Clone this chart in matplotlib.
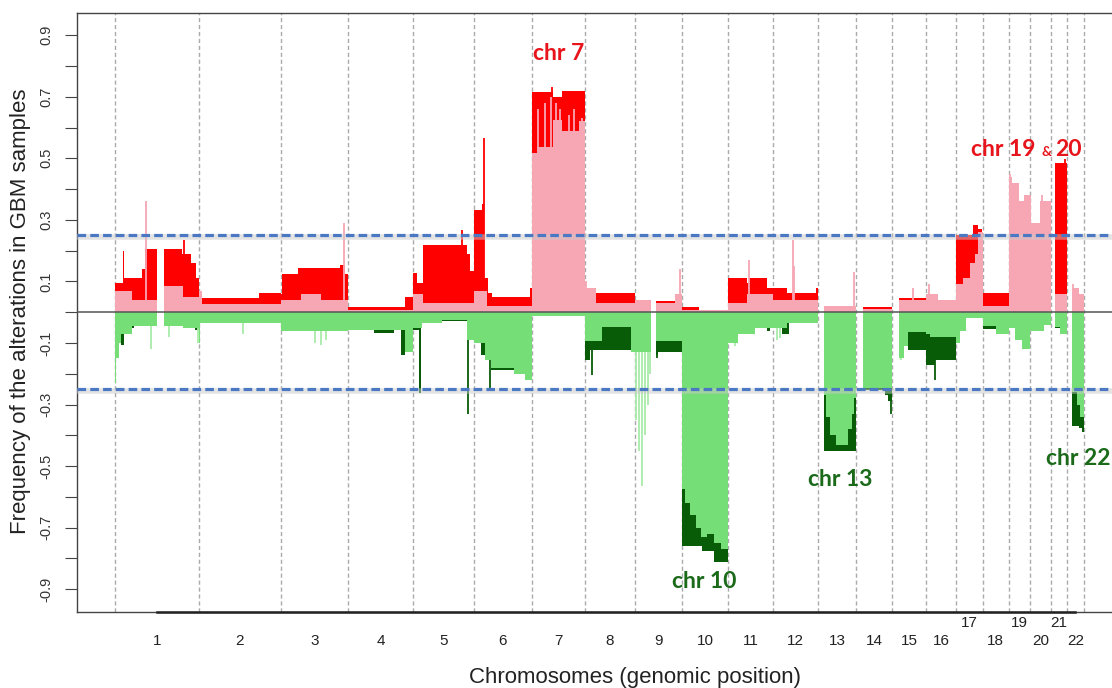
import numpy as np
import matplotlib.pyplot as plt

# chromosome lengths (Mb, hg18)
CHROM_LEN = [247.2, 243.0, 199.5, 191.3, 180.9, 170.9, 158.8, 146.3, 140.3, 135.4, 134.5,
             132.3, 114.1, 106.4, 100.3, 88.8, 78.8, 76.1, 63.8, 62.4, 46.9, 49.7]

# step profiles per chromosome: (start Mb, frequency); None marks a region without probes
gain_all = {
    1: [(0, .094), (23, .20), (25, .11), (79, .14), (89, .205), (123, None), (143, .205), (198, .19), (223, .16), (238, .11)],
    2: [(0, .06), (6, .045), (177, .062)],
    3: [(0, .06), (3, .125), (50, .142), (176, .154), (190, .125)],
    4: [(0, .018), (168, .05)],
    5: [(0, .126), (12, .094), (30, .218), (160, .19), (170, .135)],
    6: [(0, .332), (23, .35), (30, .11), (41, .062), (55, .048), (166, .08)],
    7: [(0, .716), (64, .70), (89, .718)],
    8: [(0, .04), (32, .062)],
    9: [(0, .03), (48, None), (63, .035)],
    10: [(0, .018), (50, .008)],
    11: [(0, .11), (58, .095), (62, .11), (116, .078)],
    12: [(0, .078), (42, .062), (126, .078)],
    13: [(0, None), (19, .005)],
    14: [(0, None), (19, .018)],
    15: [(0, None), (20, .046)],
    16: [(0, .01)],
    17: [(0, .25), (50, .283), (66, .27), (75, .20)],
    18: [(0, .062)],
    19: [(0, .05)],
    20: [(0, .05)],
    21: [(0, None), (10, .484)],
    22: [(0, None), (15, .02)],
}
gain_low = {
    1: [(0, .07), (50, .04), (123, None), (143, .085), (200, .05)],
    2: [(0, .07), (10, .025)],
    3: [(0, .04), (60, .06), (120, .04)],
    4: [(0, .008)],
    5: [(0, .06), (30, .03)],
    6: [(0, .07), (38, .02)],
    7: [(0, .516), (15, .538), (64, .625), (89, .59), (140, .62)],
    8: [(0, .08), (32, .03)],
    9: [(0, .04), (48, None), (63, .03), (120, .06)],
    10: [(0, .008)],
    11: [(0, .03), (58, .06)],
    12: [(0, .04)],
    13: [(0, None), (19, .02)],
    14: [(0, None), (19, .01)],
    15: [(0, None), (20, .04)],
    16: [(0, .06), (35, .04)],
    17: [(0, .09), (20, .11), (40, .16), (55, .19), (65, .26)],
    18: [(0, .02)],
    19: [(0, .44), (10, .42), (30, .36), (45, .38)],
    20: [(0, .38), (4, .29), (30, .36)],
    21: [(0, None), (10, .06)],
    22: [(0, None), (15, .078), (35, .06)],
}
loss_all = {
    1: [(0, -.04), (17, -.105), (25, -.05), (55, -.045), (85, -.035), (123, None), (143, -.03), (235, -.057)],
    2: [(0, -.025), (120, -.03)],
    3: [(0, -.05)],
    4: [(0, -.04), (75, -.068), (135, -.05), (157, -.139), (168, -.05)],
    5: [(0, -.057), (17, -.263), (25, -.03)],
    6: [(0, -.07), (20, -.14), (50, -.187), (118, -.10)],
    7: [(0, -.005)],
    8: [(0, -.155), (14, -.124)],
    9: [(0, -.05), (48, None), (63, -.139), (70, -.128)],
    10: [(0, -.761), (60, -.777), (95, -.81)],
    11: [(0, -.03), (115, -.06), (125, -.03)],
    12: [(0, -.03), (27, -.07), (47, -.03)],
    13: [(0, None), (19, -.452)],
    14: [(0, None), (19, -.252), (85, -.27), (95, -.29)],
    15: [(0, None), (20, -.10), (45, -.122)],
    16: [(0, -.17), (27, -.155)],
    17: [(0, -.005)],
    18: [(0, -.055), (40, -.01)],
    19: [(0, -.01)],
    20: [(0, -.01)],
    21: [(0, None), (10, -.05)],
    22: [(0, None), (15, -.37), (35, -.375), (43, -.39)],
}
loss_low = {
    1: [(0, -.23), (3, -.15), (10, -.10), (17, -.07), (50, -.045), (123, None), (143, -.045), (200, -.05)],
    2: [(0, -.10), (3, -.035)],
    3: [(0, -.06)],
    4: [(0, -.057), (168, -.13)],
    5: [(0, -.05), (28, -.035), (85, -.025), (160, -.09)],
    6: [(0, -.10), (33, -.155), (50, -.18), (118, -.20), (150, -.22)],
    7: [(0, -.012)],
    8: [(0, -.095), (49, -.047), (134, -.128)],
    9: [(0, -.128), (48, None), (63, -.095)],
    10: [(0, -.575), (10, -.62), (25, -.66), (40, -.70), (55, -.73), (75, -.72), (95, -.75), (115, -.77)],
    11: [(0, -.10), (30, -.07), (80, -.05)],
    12: [(0, -.05), (40, -.036)],
    13: [(0, None), (19, -.27), (25, -.34), (35, -.40), (55, -.43), (90, -.38), (100, -.33), (108, -.28)],
    14: [(0, None), (19, -.245)],
    15: [(0, None), (20, -.15), (35, -.11), (45, -.065)],
    16: [(0, -.07), (10, -.08)],
    17: [(0, -.10), (10, -.06), (30, -.02)],
    18: [(0, -.045), (40, -.07)],
    19: [(0, -.05), (20, -.09), (40, -.12)],
    20: [(0, -.06), (40, -.04)],
    21: [(0, None), (10, -.047), (25, -.07)],
    22: [(0, None), (15, -.26), (30, -.30), (40, -.34)],
}

# single-probe peaks: (chromosome, Mb, frequency)
red_peaks = [(1, 203, .235), (5, 145, .267), (6, 31, .565), (7, 60, .733), (21, 40, .497)]
pink_peaks = [(1, 90, .36), (3, 186, .29), (8, 3, .10), (9, 133, .14), (11, 62, .17), (12, 58, .235),
              (12, 62, .15), (13, 108, .13), (15, 60, .08), (16, 8, .09), (22, 18, .09),
              (7, 20, .66), (7, 40, .68), (7, 58, .70), (7, 72, .68), (7, 85, .66), (7, 110, .64),
              (7, 125, .66), (7, 148, .63), (19, 3, .45), (20, 35, .38)]
green_peaks = [(1, 105, -.12), (1, 160, -.08), (1, 246, -.10), (2, 130, -.07), (3, 100, -.10),
               (3, 120, -.106), (3, 135, -.09), (9, 3, -.35), (9, 13, -.45), (9, 21, -.566),
               (9, 30, -.40), (9, 40, -.30), (9, 45, -.20), (11, 20, -.11), (12, 10, -.09),
               (12, 20, -.085), (15, 25, -.155)]
dkgreen_peaks = [(5, 162, -.33), (6, 48, -.252), (8, 21, -.204), (9, 65, -.15), (16, 26, -.22), (14, 103, -.33)]

chrom_labels = [str(c) for c in range(1, 23)]

RED = '#ff0000'
PINK = '#f7a6b4'
DKGREEN = '#085c08'
MDGREEN = '#76de76'
LTGREEN = '#a9eca9'

offsets = np.concatenate([[0], np.cumsum(CHROM_LEN)])
mids = offsets[:-1] + np.array(CHROM_LEN) / 2


def to_bars(profile):
    xs, ws, hs = [], [], []
    for c, steps in profile.items():
        for i, (s, v) in enumerate(steps):
            e = steps[i + 1][0] if i + 1 < len(steps) else CHROM_LEN[c - 1]
            if v is None:
                continue
            xs.append(offsets[c - 1] + s)
            ws.append(e - s)
            hs.append(v)
    return xs, ws, hs


def to_peaks(peaks):
    return [offsets[c - 1] + p for c, p, _ in peaks], [v for _, _, v in peaks]


fig = plt.figure(figsize=(11.12, 6.88), dpi=100)
ax = fig.add_axes([77 / 1112, 76 / 688, (1120 - 77) / 1112, 599 / 688])

for x in offsets:
    ax.axvline(x, color='#aaaaaa', lw=1, ls=(0, (3, 2)), zorder=1)

# total frequency first, the low-level share is painted over it
layers = [(gain_all, RED, red_peaks, 2.0), (gain_low, PINK, pink_peaks, 2.2),
          (loss_all, DKGREEN, dkgreen_peaks, 2.0), (loss_low, MDGREEN, None, 2.2)]
for prof, col, peaks, z in layers:
    xs, ws, hs = to_bars(prof)
    ax.bar(xs, hs, width=ws, align='edge', color=col, linewidth=0, zorder=z)
    if peaks:
        px, pv = to_peaks(peaks)
        ax.vlines(px, 0, pv, colors=col, lw=1.3, zorder=z + 0.1)

px, pv = to_peaks(green_peaks)
ax.vlines(px, 0, pv, colors=LTGREEN, lw=1.3, zorder=2.05)

ax.axhline(0, color='#555555', lw=1.1, zorder=4)
for y in (0.25, -0.25):
    ax.axhline(y - 0.007, color='#c9c9c9', lw=4, alpha=0.5, zorder=4)
    ax.axhline(y, color='#4a78c2', lw=2.3, ls=(0, (2.7, 1.3)), zorder=5)

ax.set_xlim(-113.4, 2975)
ax.set_ylim(-0.974, 0.972)

for side in ('left', 'top', 'bottom'):
    ax.spines[side].set_color('#444444')
    ax.spines[side].set_linewidth(1.0)
ax.spines['right'].set_visible(False)
ax.plot([mids[0], mids[-1]], [-0.974, -0.974], color='#222222', lw=1.8, clip_on=False, zorder=6)

yt = np.round(np.arange(-0.9, 0.91, 0.1), 1)
ax.set_yticks(yt)
ax.set_yticklabels([f'{t:g}' if round(abs(t) * 10) % 2 == 1 else '' for t in yt],
                   rotation=90, va='center', fontsize=10.5, color='#333333',
                   fontfamily='Liberation Sans')
ax.tick_params(axis='y', direction='out', length=9, width=0.8, color='#444444', pad=8)

upper = [17, 19, 21]
major = [i for i in range(22) if i + 1 not in upper]
minor = [i for i in range(22) if i + 1 in upper]
ax.set_xticks(mids[major])
ax.set_xticklabels([chrom_labels[i] for i in major], fontsize=11, color='#222222',
                   fontfamily='Liberation Sans')
ax.set_xticks(mids[minor], minor=True)
ax.set_xticklabels([chrom_labels[i] for i in minor], minor=True, fontsize=11,
                   color='#222222', fontfamily='Liberation Sans')
ax.tick_params(axis='x', which='major', length=0, pad=16)
ax.tick_params(axis='x', which='minor', length=0, pad=3)

fig.text(21 / 1112, 1 - 311 / 688, 'Frequency of the alterations in GBM samples', rotation=90,
         ha='center', va='center', fontsize=16, color='#222222', fontfamily='Liberation Sans')
fig.text(635 / 1112, 1 - 677 / 688, 'Chromosomes (genomic position)', ha='center', va='center',
         fontsize=16, color='#222222', fontfamily='Liberation Sans')

tred = '#e8141c'
tgreen = '#1a6a1a'
ann = dict(fontfamily='Lato', fontweight='bold', fontsize=16.5, ha='center', va='center', zorder=7)
ax.text(mids[6], 0.842, 'chr 7', color=tred, **ann)
ax.text(1743, -0.875, 'chr 10', color=tgreen, **ann)
ax.text(2146, -0.544, 'chr 13', color=tgreen, **ann)
ax.text(2851, -0.476, 'chr 22', color=tgreen, **ann)
ax.text(2723, 0.507, 'chr 19', color=tred, fontfamily='Lato', fontweight='bold', fontsize=16.5,
        ha='right', va='baseline')
ax.text(2758, 0.507, '&', color=tred, fontfamily='Lato', fontweight='bold', fontsize=10,
        ha='center', va='baseline')
ax.text(2782, 0.507, '20', color=tred, fontfamily='Lato', fontweight='bold', fontsize=16.5,
        ha='left', va='baseline')

fig.savefig('out.png', dpi=100)
